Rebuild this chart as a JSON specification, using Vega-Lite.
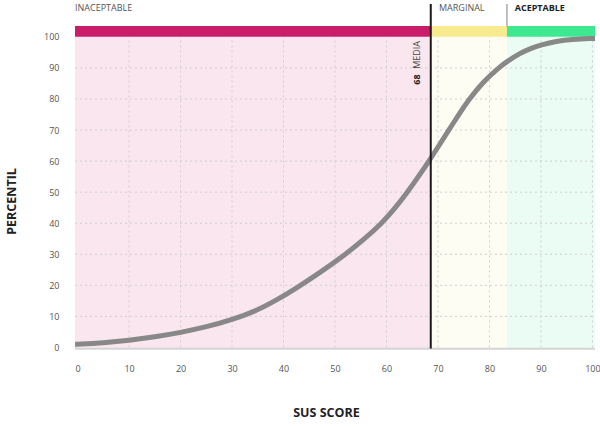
{
  "$schema": "https://vega.github.io/schema/vega-lite/v6.json",
  "width": 520,
  "height": 323,
  "autosize": "none",
  "padding": {"left": 75, "top": 26, "right": 5, "bottom": 78},
  "background": "white",
  "config": {"view": {"stroke": null}, "font": "Open Sans", "axis": {"labelOverlap": false}},
  "datasets": {
    "zones": [
      {"zone": "INACEPTABLE", "start": -0.5, "end": 68.6},
      {"zone": "MARGINAL", "start": 68.6, "end": 83.4},
      {"zone": "ACEPTABLE", "start": 83.4, "end": 100.5}
    ],
    "vgrid": [{"v": 10}, {"v": 20}, {"v": 30}, {"v": 40}, {"v": 50}, {"v": 60}, {"v": 70}, {"v": 80}, {"v": 90}, {"v": 100}],
    "hgrid": [{"v": 10}, {"v": 20}, {"v": 30}, {"v": 40}, {"v": 50}, {"v": 60}, {"v": 70}, {"v": 80}, {"v": 90}],
    "curve": [
      {"score": -0.5, "pct": 1.0}, {"score": 0, "pct": 1.0}, {"score": 5, "pct": 1.5},
      {"score": 10, "pct": 2.3}, {"score": 15, "pct": 3.4}, {"score": 20, "pct": 4.8},
      {"score": 25, "pct": 6.6}, {"score": 30, "pct": 8.9}, {"score": 35, "pct": 12.0},
      {"score": 38.3, "pct": 14.9}, {"score": 42.6, "pct": 19.2}, {"score": 47, "pct": 24.0},
      {"score": 51.9, "pct": 29.8}, {"score": 55.5, "pct": 34.6}, {"score": 59.1, "pct": 40},
      {"score": 61.5, "pct": 44.5}, {"score": 63.9, "pct": 49.6}, {"score": 66.2, "pct": 55.0},
      {"score": 68.4, "pct": 60.4}, {"score": 70.2, "pct": 65.0}, {"score": 72, "pct": 69.7},
      {"score": 74, "pct": 74.9}, {"score": 75.9, "pct": 79.6}, {"score": 78.8, "pct": 85.6},
      {"score": 81.7, "pct": 89.9}, {"score": 83.4, "pct": 92.1}, {"score": 86, "pct": 94.8},
      {"score": 88, "pct": 96.3}, {"score": 90, "pct": 97.4}, {"score": 93, "pct": 98.6},
      {"score": 96, "pct": 99.2}, {"score": 100, "pct": 99.5}, {"score": 100.5, "pct": 99.5}
    ],
    "toplabels": [
      {"label": "INACEPTABLE", "x": -0.5, "y": 109.3},
      {"label": "MARGINAL", "x": 70.2, "y": 109.3},
      {"label": "ACEPTABLE", "x": 84.9, "y": 109.3}
    ],
    "median": [
      {"label": "68", "x": 65.9, "y": 84.6},
      {"label": "MEDIA", "x": 65.9, "y": 89.7}
    ]
  },
  "layer": [
    {
      "data": {"name": "zones"},
      "mark": {"type": "rect", "fillOpacity": 0.11},
      "encoding": {
        "x": {"field": "start", "type": "quantitative", "scale": {"domain": [-0.5, 100.5], "nice": false, "zero": false},
          "axis": {"values": [0, 10, 20, 30, 40, 50, 60, 70, 80, 90, 100], "grid": false, "ticks": false, "domain": false,
            "labelOverlap": false,
            "labelFontSize": 9, "labelColor": "#555", "labelPadding": 15, "labelFont": "Open Sans",
            "title": "SUS SCORE", "titleFontSize": 12.5, "titleFontWeight": "bold", "titleColor": "#222", "titleFont": "Open Sans",
            "titleX": 251, "titleY": 63, "titleBaseline": "middle", "titleAnchor": "middle", "titleAlign": "center"}},
        "x2": {"field": "end"},
        "y": {"datum": -0.5, "type": "quantitative", "scale": {"domain": [-0.5, 103.5], "nice": false, "zero": false},
          "axis": {"tickCount": 11, "grid": false, "ticks": false, "domain": false,
            "labelOverlap": false, "labelSeparation": 0,
            "labelFontSize": 9, "labelColor": "#555", "labelPadding": 16, "labelFont": "Open Sans",
            "title": "PERCENTIL", "titleFontSize": 12.5, "titleFontWeight": "bold", "titleColor": "#222", "titleFont": "Open Sans",
            "titleX": -64, "titleY": 175, "titleAngle": 270, "titleBaseline": "middle", "titleAlign": "center"}},
        "y2": {"datum": 100},
        "fill": {"field": "zone", "type": "nominal", "legend": null,
          "scale": {"domain": ["INACEPTABLE", "MARGINAL", "ACEPTABLE"], "range": ["#C91D6A", "#F7EA8F", "#3DE891"]}}
      }
    },
    {
      "data": {"name": "vgrid"},
      "mark": {"type": "rule", "stroke": "#cfcfcf", "strokeWidth": 1, "strokeDash": [2, 3]},
      "encoding": {
        "x": {"field": "v", "type": "quantitative"},
        "y": {"datum": 0, "type": "quantitative"},
        "y2": {"datum": 100}
      }
    },
    {
      "data": {"name": "hgrid"},
      "mark": {"type": "rule", "stroke": "#cfcfcf", "strokeWidth": 1, "strokeDash": [2, 3]},
      "encoding": {
        "y": {"field": "v", "type": "quantitative"},
        "x": {"datum": -0.5, "type": "quantitative"},
        "x2": {"datum": 100.5}
      }
    },
    {
      "data": {"name": "zones"},
      "mark": {"type": "rect"},
      "encoding": {
        "x": {"field": "start", "type": "quantitative"},
        "x2": {"field": "end"},
        "y": {"datum": 100, "type": "quantitative"},
        "y2": {"datum": 103.5},
        "fill": {"field": "zone", "type": "nominal", "legend": null}
      }
    },
    {
      "data": {"values": [{"a": 1}]},
      "mark": {"type": "rule", "stroke": "#d4d4d4", "strokeWidth": 2},
      "encoding": {
        "y": {"datum": -0.4, "type": "quantitative"},
        "x": {"datum": -0.5, "type": "quantitative"},
        "x2": {"datum": 100.5}
      }
    },
    {
      "data": {"name": "curve"},
      "mark": {"type": "line", "stroke": "#888888", "strokeWidth": 5, "interpolate": "basis", "strokeCap": "butt"},
      "encoding": {
        "x": {"field": "score", "type": "quantitative"},
        "y": {"field": "pct", "type": "quantitative"}
      }
    },
    {
      "data": {"values": [{"score": 68.6}]},
      "mark": {"type": "rule", "stroke": "#1a1a1a", "strokeWidth": 2, "clip": false},
      "encoding": {
        "x": {"field": "score", "type": "quantitative"},
        "y": {"datum": -0.3, "type": "quantitative"},
        "y2": {"datum": 110.6}
      }
    },
    {
      "data": {"values": [{"score": 83.4}]},
      "mark": {"type": "rule", "stroke": "#aaaaaa", "strokeWidth": 1.5, "clip": false},
      "encoding": {
        "x": {"field": "score", "type": "quantitative"},
        "y": {"datum": 103.5, "type": "quantitative"},
        "y2": {"datum": 110.6}
      }
    },
    {
      "data": {"name": "toplabels"},
      "transform": [{"filter": "datum.label != 'ACEPTABLE'"}],
      "mark": {"type": "text", "align": "left", "baseline": "middle", "fontSize": 9, "color": "#555", "clip": false},
      "encoding": {
        "x": {"field": "x", "type": "quantitative"},
        "y": {"field": "y", "type": "quantitative"},
        "text": {"field": "label"}
      }
    },
    {
      "data": {"name": "toplabels"},
      "transform": [{"filter": "datum.label == 'ACEPTABLE'"}],
      "mark": {"type": "text", "align": "left", "baseline": "middle", "fontSize": 9, "fontWeight": "bold", "color": "#222", "clip": false},
      "encoding": {
        "x": {"field": "x", "type": "quantitative"},
        "y": {"field": "y", "type": "quantitative"},
        "text": {"field": "label"}
      }
    },
    {
      "data": {"name": "median"},
      "transform": [{"filter": "datum.label == '68'"}],
      "mark": {"type": "text", "align": "left", "baseline": "middle", "angle": 270, "fontSize": 9, "fontWeight": "bold", "color": "#222"},
      "encoding": {
        "x": {"field": "x", "type": "quantitative"},
        "y": {"field": "y", "type": "quantitative"},
        "text": {"field": "label"}
      }
    },
    {
      "data": {"name": "median"},
      "transform": [{"filter": "datum.label == 'MEDIA'"}],
      "mark": {"type": "text", "align": "left", "baseline": "middle", "angle": 270, "fontSize": 9, "color": "#444"},
      "encoding": {
        "x": {"field": "x", "type": "quantitative"},
        "y": {"field": "y", "type": "quantitative"},
        "text": {"field": "label"}
      }
    }
  ]
}
